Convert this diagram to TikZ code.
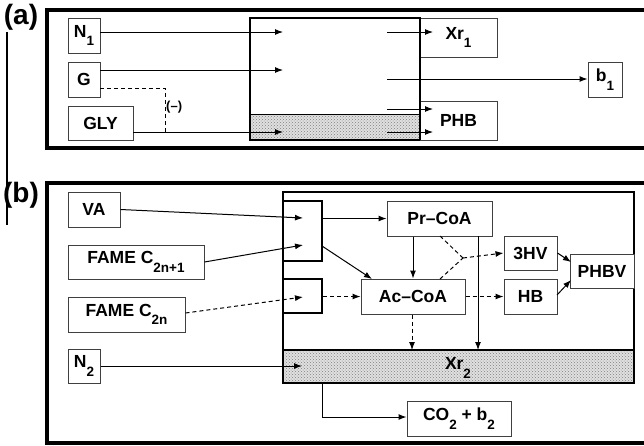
\documentclass[tikz,border=0pt]{standalone}
\usepackage{fontspec}
\setmainfont{Liberation Sans}
\usetikzlibrary{arrows.meta,patterns}
\newcommand\sbs[1]{\raisebox{-0.5em}{\fontsize{13.5}{13.5}\selectfont #1}}
\begin{document}
\begin{tikzpicture}[x=1pt,y=-1pt,
  box/.style={draw=black!75, line width=1pt, fill=white, inner sep=0pt,
    font=\fontsize{17.5}{17.5}\selectfont\bfseries, text=black},
  arr/.style={-{Latex[length=8pt,width=6pt]}, line width=1pt},
  dsh/.style={dash pattern=on 4pt off 3pt},
  outerframe/.style={line width=3.5pt},
  cellbox/.style={draw=black, line width=2pt},
  stipple/.style={preaction={fill=black!12}, pattern=crosshatch dots, pattern color=black!50},
  lbl/.style={font=\fontsize{28}{28}\selectfont\bfseries, inner sep=0pt}]
\useasboundingbox (0,0) rectangle (644,445);

% side line and labels
\draw[line width=1.2pt] (7,32) -- (7,225);
\node[lbl] (la) at (21,17) {(a)};
\node[lbl] (lb) at (21,195) {(b)};

% ---------------- (a) ----------------
\draw[outerframe] (644,10) -- (47,10) -- (47,148) -- (644,148);
\path[stipple] (250,114) rectangle (420,140);
\node[cellbox, minimum width=170pt, minimum height=122pt, inner sep=0pt] (cellA) at (335,79) {};
\draw[line width=1pt] (250,114) -- (420,114);

\node[box, minimum width=32pt, minimum height=35pt] (N1) at (84,35.5) {N\sbs{1}};
\node[box, minimum width=32pt, minimum height=35pt] (G) at (84,79.5) {G};
\node[box, minimum width=65pt, minimum height=34pt] (GLY) at (100.5,123) {GLY};
\node[box, minimum width=77pt, minimum height=39pt] (Xr1) at (458.5,37.5) {Xr\sbs{1}};
\node[box, minimum width=77pt, minimum height=39pt] (PHB) at (458.5,120.5) {PHB};
\node[box, minimum width=34pt, minimum height=35pt] (b1) at (605,79.5) {b\sbs{1}};
\draw[cellbox] (420,18) -- (420,140);

\coordinate (aN1s) at (100,32);  \coordinate (aN1e) at (283,32);
\coordinate (aGs) at (100,70);   \coordinate (aGe) at (283,70);
\coordinate (aGLYs) at (133,132); \coordinate (aGLYe) at (283,132);
\draw[arr] (aN1s) -- (aN1e);
\draw[arr] (aGs) -- (aGe);
\draw[arr] (aGLYs) -- (aGLYe);
\coordinate (dG) at (100,88); \coordinate (dK) at (165,88); \coordinate (dE) at (165,132);
\draw[dsh, line width=1pt] (dG) -- (dK) -- (dE);
\node[anchor=west, inner sep=0pt, font=\fontsize{13}{13}\selectfont\bfseries] (minus) at (166,107) {(--)};

\coordinate (r1s) at (387,32);  \coordinate (r1e) at (433,32);
\coordinate (r2s) at (387,79);
\coordinate (r3s) at (387,109); \coordinate (r3e) at (433,109);
\coordinate (r4s) at (387,132); \coordinate (r4e) at (433,132);
\draw[arr] (r1s) -- (r1e);
\draw[arr] (r2s) -- (b1.west |- r2s);
\draw[arr] (r3s) -- (r3e);
\draw[arr] (r4s) -- (r4e);

% ---------------- (b) ----------------
\draw[outerframe] (644,183) -- (47,183) -- (47,443) -- (644,443);
\path[stipple] (283,350) rectangle (634,383);
\node[draw=black, line width=1.5pt, minimum width=351pt, minimum height=191pt, inner sep=0pt] (cellB) at (458.5,287.5) {};
\draw[line width=1.5pt] (283,350) -- (634,350);
\node[inner sep=0pt, font=\fontsize{17.5}{17.5}\selectfont\bfseries] (Xr2) at (458,368) {Xr\sbs{2}};

\node[draw=black, line width=2.5pt, fill=white, minimum width=39pt, minimum height=60pt, inner sep=0pt] (sb1) at (302.5,231) {};
\node[draw=black, line width=2.5pt, fill=white, minimum width=39pt, minimum height=34pt, inner sep=0pt] (sb2) at (302.5,296) {};

\node[box, minimum width=52pt, minimum height=35pt] (VA) at (94,209.5) {VA};
\node[box, minimum width=136pt, minimum height=34pt] (F1) at (136,262) {FAME C\sbs{2n+1}};
\node[box, minimum width=117pt, minimum height=35pt] (F2) at (126.5,314.5) {FAME C\sbs{2n}};
\node[box, minimum width=32pt, minimum height=34pt] (N2) at (84,366) {N\sbs{2}};

\node[box, minimum width=105pt, minimum height=35pt] (Pr) at (439.5,218.5) {Pr--CoA};
\node[box, minimum width=104pt, minimum height=35pt] (Ac) at (413,296.5) {Ac--CoA};
\node[box, minimum width=53pt, minimum height=34pt] (HV) at (530.5,253) {3HV};
\node[box, minimum width=53pt, minimum height=35pt] (HB) at (530.5,296.5) {HB};
\node[box, minimum width=64pt, minimum height=34pt] (PHBV) at (602,271) {PHBV};
\node[box, minimum width=104pt, minimum height=35pt] (CO) at (459,418.5) {CO\sbs{2} + b\sbs{2}};

% inputs
\coordinate (vaE) at (303,218);
\coordinate (f1E) at (303,245);
\coordinate (f2E) at (303,297);
\coordinate (n2E) at (302,366);
\draw[arr] (VA.east) -- (vaE);
\draw[arr] (F1.east) -- (f1E);
\draw[arr, dsh] (F2.east) ++(0,-1.5) -- (f2E);
\draw[arr] (N2.east) -- (n2E);

% internal
\draw[arr] (sb1.east |- Pr.west) -- (Pr.west);
\coordinate (acTL) at (372,279);
\draw[arr] (322,246) -- (acTL);
\draw[arr, dsh] (sb2.east |- Ac.west) -- (Ac.west);
\draw[arr] (Pr.south) ++(-26.5,0) coordinate (prS) -- (prS |- Ac.north);
\draw[arr, dsh] (Ac.south) ++(-1,0) coordinate (acS) -- (acS |- 0,350);
\coordinate (prR) at (478,236);
\coordinate (xrT) at (478,350);
\draw[arr] (prR) -- (xrT);
\coordinate (jn) at (463,258);
\coordinate (prD) at (440,236);
\coordinate (acU) at (440,279);
\draw[dsh, line width=1pt] (prD) -- (jn);
\draw[dsh, line width=1pt] (acU) -- (jn);
\draw[arr, dsh] (jn) -- (HV.west);
\draw[arr, dsh] (Ac.east) -- (HB.west);
\coordinate (phbvA) at (571,262);
\coordinate (phbvB) at (571,280);
\draw[arr] (HV.east) -- (phbvA);
\draw[arr] (557,295) -- (phbvB);
\coordinate (xrB) at (322,383);
\coordinate (xrK) at (322,417);
\draw[arr] (xrB) -- (xrK) -- (CO.west |- xrK);
\end{tikzpicture}
\end{document}
